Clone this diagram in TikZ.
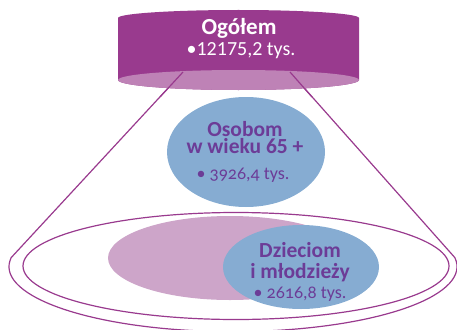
\documentclass[tikz,border=0pt]{standalone}
\usepackage{fontspec}
\setmainfont{Carlito}

\definecolor{plum}{HTML}{993A8E}
\definecolor{plumlight}{HTML}{BE82B6}
\definecolor{pinkish}{HTML}{CDA5C9}
\definecolor{skyblue}{HTML}{86ACD2}
\definecolor{inkviolet}{HTML}{6C3C97}

\tikzset{
  rim/.style={draw=plum, line width=1.2pt},
  headtxt/.style={anchor=base, inner sep=0pt, align=center, text=inkviolet,
    font=\bfseries\fontsize{21.5}{17}\selectfont},
  numtxt/.style={anchor=base, inner sep=0pt, text=inkviolet,
    font=\fontsize{18}{18}\selectfont\addfontfeatures{Numbers=OldStyle}}
}

\begin{document}
\begin{tikzpicture}[x=1pt,y=-1pt]
  \useasboundingbox (0,0) rectangle (457,329);

  % bottom group
  \coordinate (base) at (236,266);
  \fill[pinkish] (230,258) ellipse[x radius=122, y radius=42];
  \fill[skyblue] (301,267) ellipse[x radius=78, y radius=42];
  \draw[rim] (base) ellipse[x radius=213, y radius=53.5];

  % cone
  \coordinate (coneL) at (183,72);
  \coordinate (coneR) at (290,72);
  \draw[rim, line join=round] (coneL) -- (11.2,257.6)
    arc[start angle=188, end angle=-8, x radius=224, y radius=65] -- (coneR);

  % cylinder on top
  \fill[plum] (118,18) arc[start angle=180, end angle=360, x radius=120.5, y radius=8]
    -- (359,80) arc[start angle=0, end angle=180, x radius=120.5, y radius=10] -- cycle;
  \fill[plumlight] (238.5,80) ellipse[x radius=120.5, y radius=10];
  \draw[rim] (coneL) -- (160,97);
  \draw[rim] (coneR) -- (312,97);

  \node[headtxt, text=white, font=\bfseries\fontsize{23}{23}\selectfont] (total) at (239,35) {Ogółem};
  \node[numtxt, text=white, font=\fontsize{20}{20}\selectfont] (totalnum) at (241,56) {•12175,2 tys.};

  % seniors
  \fill[skyblue] (246,152) ellipse[x radius=79, y radius=55];
  \node[headtxt] (senior) at (245,153) {Osobom\\w wieku 65 +};
  \node[numtxt] (seniornum) at (243,179) {• 3926,4 tys.};

  % children
  \node[headtxt, font=\bfseries\fontsize{21.5}{21}\selectfont] (kids) at (300,278) {Dzieciom\\i młodzieży};
  \node[numtxt] (kidsnum) at (300,298) {• 2616,8 tys.};
\end{tikzpicture}
\end{document}
